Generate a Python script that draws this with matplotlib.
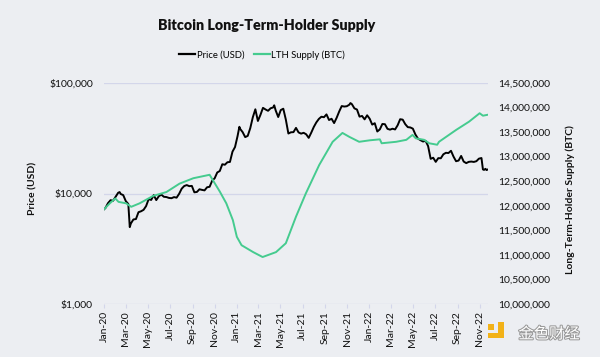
import matplotlib
matplotlib.use('Agg')
import matplotlib.pyplot as plt
import matplotlib.dates as mdates
import matplotlib.ticker as mticker
import matplotlib.patheffects as pe
from matplotlib.patches import Rectangle
from matplotlib.lines import Line2D
import numpy as np
import pandas as pd

# ---------------- data ----------------
price_dates = [
    "2020-01-01", "2020-01-05", "2020-01-12", "2020-01-19", "2020-01-26", "2020-02-02", "2020-02-09",
    "2020-02-13", "2020-02-16", "2020-02-23", "2020-03-01", "2020-03-08", "2020-03-12", "2020-03-15",
    "2020-03-22", "2020-03-29", "2020-04-05", "2020-04-12", "2020-04-19", "2020-04-26", "2020-05-03",
    "2020-05-10", "2020-05-17", "2020-05-24", "2020-05-31", "2020-06-07", "2020-06-14", "2020-06-21",
    "2020-06-28", "2020-07-05", "2020-07-12", "2020-07-19", "2020-07-26", "2020-08-02", "2020-08-09",
    "2020-08-16", "2020-08-23", "2020-08-30", "2020-09-06", "2020-09-13", "2020-09-20", "2020-09-27",
    "2020-10-04", "2020-10-11", "2020-10-18", "2020-10-25", "2020-11-01", "2020-11-08", "2020-11-15",
    "2020-11-22", "2020-11-29", "2020-12-06", "2020-12-13", "2020-12-20", "2020-12-27",
    "2021-01-03", "2021-01-08", "2021-01-10", "2021-01-17", "2021-01-24", "2021-01-31", "2021-02-07",
    "2021-02-14", "2021-02-21", "2021-02-28", "2021-03-07", "2021-03-14", "2021-03-21", "2021-03-28",
    "2021-04-04", "2021-04-11", "2021-04-14", "2021-04-18", "2021-04-25", "2021-05-02", "2021-05-09",
    "2021-05-16", "2021-05-23", "2021-05-30", "2021-06-06", "2021-06-13", "2021-06-20", "2021-06-27",
    "2021-07-04", "2021-07-11", "2021-07-18", "2021-07-25", "2021-08-01", "2021-08-08", "2021-08-15",
    "2021-08-22", "2021-08-29", "2021-09-05", "2021-09-12", "2021-09-19", "2021-09-26", "2021-10-03",
    "2021-10-10", "2021-10-17", "2021-10-24", "2021-10-31", "2021-11-07", "2021-11-10", "2021-11-14",
    "2021-11-21", "2021-11-28", "2021-12-05", "2021-12-12", "2021-12-19", "2021-12-26",
    "2022-01-02", "2022-01-09", "2022-01-16", "2022-01-23", "2022-01-30", "2022-02-06", "2022-02-13",
    "2022-02-20", "2022-02-27", "2022-03-06", "2022-03-13", "2022-03-20", "2022-03-27", "2022-04-03",
    "2022-04-10", "2022-04-17", "2022-04-24", "2022-05-01", "2022-05-08", "2022-05-15", "2022-05-22",
    "2022-05-29", "2022-06-05", "2022-06-12", "2022-06-19", "2022-06-26", "2022-07-03", "2022-07-10",
    "2022-07-17", "2022-07-24", "2022-07-31", "2022-08-07", "2022-08-14", "2022-08-21", "2022-08-28",
    "2022-09-04", "2022-09-11", "2022-09-18", "2022-09-25", "2022-10-02", "2022-10-09", "2022-10-16",
    "2022-10-23", "2022-10-30", "2022-11-06", "2022-11-10", "2022-11-13", "2022-11-17", "2022-11-20",
    "2022-11-24",
]
price_usd = [
    7200, 7400, 8180, 8700, 8600, 9340, 10150,
    10300, 9900, 9670, 8540, 8040, 4970, 5360,
    5830, 5880, 6780, 6910, 7120, 7700, 8900,
    8750, 9670, 8720, 9450, 9760, 9340, 9290,
    9120, 9070, 9280, 9170, 9930, 11050, 11680,
    11910, 11650, 11710, 10250, 10330, 10920, 10780,
    10670, 11380, 11500, 13030, 13740, 15480, 15960,
    18370, 18180, 19140, 19270, 23860, 26270,
    33000, 40000, 38350, 35790, 32290, 33110, 38900,
    48720, 57540, 45140, 51200, 59300, 57350, 55780,
    58760, 59770, 62500, 56200, 49000, 56620, 58240,
    46430, 34770, 35680, 35800, 39100, 35600, 34700,
    35300, 34240, 31780, 35400, 39850, 43830, 47100,
    49320, 48810, 51750, 46060, 47260, 43210, 48230,
    54970, 61530, 60930, 61320, 63330, 65500, 64000,
    58620, 57270, 49400, 50100, 46700, 50800,
    47300, 41860, 43100, 36280, 37920, 42410, 42200,
    38350, 37700, 38420, 37850, 41260, 46820, 46400,
    42250, 39720, 39450, 38470, 34060, 31300, 30290,
    29440, 29900, 26760, 20550, 21030, 19300, 20850,
    20800, 22580, 23300, 23180, 24300, 21520, 19560,
    19830, 21830, 19420, 18800, 19300, 19420, 19270,
    19570, 20630, 20900, 16500, 16330, 16700, 16280,
    16500,
]

lth_dates = [
    "2020-01-01", "2020-01-17", "2020-02-01", "2020-02-10", "2020-03-02", "2020-03-16", "2020-04-08",
    "2020-05-15", "2020-06-21", "2020-07-27", "2020-09-03", "2020-10-18", "2020-10-27", "2020-11-15",
    "2020-12-03", "2020-12-21", "2021-01-01", "2021-01-14", "2021-02-15", "2021-03-13", "2021-04-19",
    "2021-05-16", "2021-06-13", "2021-07-10", "2021-08-16", "2021-09-22", "2021-10-19", "2021-11-07",
    "2021-12-04", "2022-01-02", "2022-01-30", "2022-02-04", "2022-03-16", "2022-04-13", "2022-04-30",
    "2022-05-09", "2022-06-01", "2022-06-15", "2022-07-07", "2022-07-12", "2022-08-28", "2022-10-03",
    "2022-11-01", "2022-11-10", "2022-11-24",
]
lth_supply = [
    11.93e6, 12.05e6, 12.15e6, 12.08e6, 12.05e6, 11.98e6, 12.05e6,
    12.20e6, 12.28e6, 12.45e6, 12.56e6, 12.63e6, 12.52e6, 12.29e6,
    12.05e6, 11.71e6, 11.37e6, 11.20e6, 11.06e6, 10.96e6, 11.06e6,
    11.24e6, 11.78e6, 12.25e6, 12.83e6, 13.30e6, 13.48e6, 13.40e6,
    13.30e6, 13.33e6, 13.35e6, 13.27e6, 13.30e6, 13.34e6, 13.44e6,
    13.37e6, 13.34e6, 13.27e6, 13.24e6, 13.30e6, 13.54e6, 13.71e6,
    13.88e6, 13.83e6, 13.85e6,
]

left_ticks = [1000, 10000, 100000]
right_ticks = [10.0e6, 10.5e6, 11.0e6, 11.5e6, 12.0e6, 12.5e6, 13.0e6, 13.5e6, 14.0e6, 14.5e6]

# ---------------- style ----------------
BG = "#ECEEF2"
GRID = "#D3D6EA"
GREEN = "#45CB8F"
TEXT = "#111111"
FONT = ["Lato", "DejaVu Sans"]
plt.rcParams["font.family"] = FONT

W, H = 600, 357
fig = plt.figure(figsize=(W / 100, H / 100), dpi=100, facecolor=BG)
ax = fig.add_axes([104 / W, 1 - 304.3 / H, 384 / W, 221.6 / H])
ax.set_facecolor(BG)

pd_price = pd.to_datetime(price_dates)
pd_lth = pd.to_datetime(lth_dates)

ax.plot(pd_price, price_usd, color="black", lw=1.4, solid_joinstyle="round")
ax.set_yscale("log")
ax.set_ylim(left_ticks[0], left_ticks[-1])
ax.set_yticks(left_ticks)
ax.yaxis.set_minor_locator(mticker.NullLocator())
ax.yaxis.set_major_formatter(mticker.FuncFormatter(lambda v, p: f"${v:,.0f}"))
ax.grid(axis="y", color=GRID, lw=0.9)
ax.set_axisbelow(True)
for s in ax.spines.values():
    s.set_visible(False)
ax.set_xlim(pd.Timestamp("2020-01-01"), pd.Timestamp("2022-11-24"))
ax.xaxis.set_major_locator(mdates.MonthLocator(bymonth=[1, 3, 5, 7, 9, 11]))
ax.xaxis.set_major_formatter(mdates.DateFormatter("%b-%y"))
ax.tick_params(axis="y", length=0, pad=8, labelsize=7.5, colors=TEXT)
ax.tick_params(axis="x", length=3, color=GRID, pad=2, labelsize=7.5, labelrotation=90, colors=TEXT)

ax2 = ax.twinx()
ax2.plot(pd_lth, lth_supply, color=GREEN, lw=1.4)
ax2.set_ylim(right_ticks[0], right_ticks[-1])
ax2.set_yticks(right_ticks)
ax2.yaxis.set_major_formatter(mticker.FuncFormatter(lambda v, p: f"{v:,.0f}"))
ax2.tick_params(axis="y", length=0, pad=7, labelsize=7.5, colors=TEXT)
for s in ax2.spines.values():
    s.set_visible(False)

# titles / labels
fig.text(267 / W, 1 - 25 / H, "Bitcoin Long-Term-Holder Supply", ha="center", va="center",
         fontsize=10.3, fontweight="heavy", color=TEXT)
fig.text(33 / W, 1 - 188 / H, "Price (USD)", rotation=90, ha="center", va="center",
         fontsize=7.5, fontweight="bold", color=TEXT)
fig.text(570 / W, 1 - 200 / H, "Long-Term-Holder Supply (BTC)", rotation=90, ha="center", va="center",
         fontsize=7.5, fontweight="bold", color=TEXT)

handles = [Line2D([0], [0], color="black", lw=1.6), Line2D([0], [0], color=GREEN, lw=1.6)]
fig.legend(handles, ["Price (USD)", "LTH Supply (BTC)"], loc="center", bbox_to_anchor=(262 / W, 1 - 55 / H),
           ncol=2, frameon=False, fontsize=6.8, handlelength=1.7, handletextpad=0.15, columnspacing=1.0)

# watermark
ORANGE = "#F2B218"
for (x, y, w, h) in [(498, 322, 6, 16), (488, 333, 16, 5), (488, 324, 6, 6)]:
    fig.add_artist(Rectangle((x / W, 1 - (y + h) / H), w / W, h / H, transform=fig.transFigure,
                             color=ORANGE, lw=0))
fig.text(549 / W, 1 - 334 / H, "金色财经", ha="center", va="center", fontsize=11,
         family=["Noto Sans CJK SC", "DejaVu Sans"], color="white",
         path_effects=[pe.withStroke(linewidth=1.5, foreground="#9A9A9A")])

fig.savefig("out.png", dpi=100, facecolor=BG)
